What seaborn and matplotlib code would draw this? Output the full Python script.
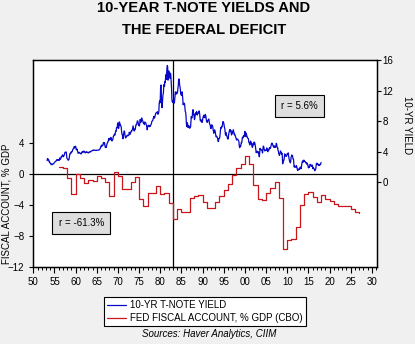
import numpy as np
import pandas as pd
import matplotlib
matplotlib.use("Agg")
import matplotlib.pyplot as plt
from matplotlib.ticker import MultipleLocator, FuncFormatter
from matplotlib.lines import Line2D
import seaborn as sns

# ---------------- data ----------------
# Federal fiscal account, % of GDP (CBO), annual 1956-2027
fiscal_years = list(range(1956, 2028))
fiscal_values = [
    0.9, 0.8, -0.6, -2.6, 0.0, -0.6, -1.2, -0.8, -0.9, -0.3,      # 1956-65
    -0.5, -1.1, -2.8, 0.2, -0.3, -2.0, -1.9, -1.1, -0.4, -3.2,    # 1966-75
    -4.1, -2.5, -2.5, -1.6, -2.6, -2.5, -3.8, -5.8, -4.6, -4.9,   # 1976-85
    -4.9, -3.1, -2.9, -2.7, -3.7, -4.4, -4.4, -3.7, -2.8, -2.1,   # 1986-95
    -1.3, -0.2, 0.8, 1.3, 2.3, 1.3, -1.4, -3.2, -3.4, -2.5,       # 1996-2005
    -1.8, -1.0, -3.1, -9.7, -8.6, -8.4, -6.8, -4.0, -2.6, -2.3,   # 2006-15
    -3.0, -3.6, -2.7, -3.2, -3.5, -3.9, -4.2, -4.2, -4.2, -4.6,   # 2016-25
    -4.9, -5.1,                                                   # 2026-27
]

# 10-year T-note yield, monthly, starting April 1953
yield_1950s = [
    2.83, 3.05, 3.11, 2.93, 2.95, 2.87, 2.66, 2.68, 2.59,
    2.48, 2.47, 2.37, 2.29, 2.37, 2.38, 2.30, 2.36, 2.38, 2.43, 2.48, 2.51,
    2.61, 2.65, 2.68, 2.75, 2.76, 2.78, 2.90, 2.97, 2.97, 2.88, 2.89, 2.96,
    2.90, 2.84, 2.96, 3.18, 3.07, 3.00, 3.11, 3.33, 3.38, 3.34, 3.49, 3.59,
    3.46, 3.34, 3.41, 3.48, 3.60, 3.80, 3.93, 3.93, 3.92, 3.97, 3.72, 3.21,
    3.09, 3.05, 2.98, 2.88, 2.92, 2.97, 3.20, 3.54, 3.76, 3.80, 3.74, 3.86,
    4.02, 3.96, 3.99, 4.12, 4.31, 4.34, 4.40, 4.43, 4.68, 4.53, 4.53, 4.69,
]
yield_1960s = [
    4.72, 4.49, 4.25, 4.28, 4.35, 4.15, 3.90, 3.80, 3.80, 3.89, 3.93, 3.84,
    3.84, 3.78, 3.74, 3.78, 3.71, 3.88, 3.92, 4.04, 3.98, 3.92, 3.94, 4.06,
    4.08, 4.04, 3.93, 3.84, 3.87, 3.91, 4.01, 3.98, 3.98, 3.93, 3.92, 3.86,
    3.83, 3.92, 3.93, 3.97, 3.93, 3.99, 4.02, 4.00, 4.08, 4.11, 4.12, 4.13,
    4.17, 4.15, 4.22, 4.23, 4.20, 4.17, 4.19, 4.19, 4.20, 4.19, 4.15, 4.18,
    4.19, 4.21, 4.21, 4.20, 4.21, 4.21, 4.20, 4.25, 4.29, 4.35, 4.45, 4.62,
    4.61, 4.83, 4.87, 4.75, 4.78, 4.81, 5.02, 5.22, 5.18, 5.01, 5.16, 4.84,
    4.58, 4.63, 4.54, 4.59, 4.85, 5.02, 5.16, 5.28, 5.30, 5.48, 5.75, 5.70,
    5.53, 5.56, 5.74, 5.64, 5.87, 5.72, 5.50, 5.42, 5.46, 5.58, 5.70, 6.03,
    6.04, 6.19, 6.30, 6.17, 6.32, 6.57, 6.72, 6.69, 7.16, 7.10, 7.14, 7.65,
]
yield_1970s = [
    7.79, 7.24, 7.07, 7.39, 7.91, 7.84, 7.46, 7.53, 7.39, 7.33, 6.84, 6.39,
    6.24, 6.11, 5.70, 5.83, 6.39, 6.52, 6.73, 6.58, 6.14, 5.93, 5.81, 5.93,
    5.95, 6.08, 6.07, 6.19, 6.13, 6.11, 6.11, 6.21, 6.55, 6.48, 6.28, 6.36,
    6.46, 6.64, 6.71, 6.67, 6.85, 6.90, 7.13, 7.40, 7.09, 6.79, 6.73, 6.74,
    6.99, 6.96, 7.21, 7.51, 7.58, 7.54, 7.81, 8.04, 8.04, 7.90, 7.68, 7.43,
    7.50, 7.39, 7.73, 8.23, 8.06, 7.86, 8.06, 8.40, 8.43, 8.14, 8.05, 8.00,
    7.74, 7.79, 7.73, 7.56, 7.90, 7.86, 7.83, 7.77, 7.59, 7.41, 7.29, 6.87,
    7.21, 7.39, 7.46, 7.37, 7.46, 7.28, 7.33, 7.40, 7.34, 7.52, 7.58, 7.69,
    7.96, 8.03, 8.04, 8.15, 8.35, 8.46, 8.64, 8.41, 8.42, 8.64, 8.81, 9.01,
    9.10, 9.10, 9.12, 9.18, 9.25, 8.91, 8.95, 9.03, 9.33, 10.30, 10.65, 10.39,
]
yield_1980s = [
    10.80, 12.41, 12.75, 11.47, 10.18, 9.78, 10.25, 11.10, 11.51, 11.75, 12.68, 12.84,
    12.57, 13.19, 13.12, 13.68, 14.10, 13.47, 14.28, 14.94, 15.32, 15.15, 13.39, 13.72,
    14.59, 14.43, 13.86, 13.87, 13.62, 14.30, 13.95, 13.06, 12.34, 10.91, 10.55, 10.54,
    10.46, 10.72, 10.51, 10.40, 10.38, 10.85, 11.38, 11.85, 11.65, 11.54, 11.69, 11.83,
    11.67, 11.84, 12.32, 12.63, 13.41, 13.56, 13.36, 12.72, 12.52, 12.16, 11.57, 11.50,
    11.38, 11.51, 11.86, 11.43, 10.85, 10.16, 10.31, 10.33, 10.37, 10.24, 9.78, 9.26,
    9.19, 8.70, 7.78, 7.30, 7.71, 7.80, 7.30, 7.17, 7.45, 7.43, 7.25, 7.11,
    7.08, 7.25, 7.25, 8.02, 8.61, 8.40, 8.45, 8.76, 9.42, 9.52, 8.86, 8.99,
    8.67, 8.21, 8.37, 8.72, 9.09, 8.92, 9.06, 9.26, 8.98, 8.80, 8.96, 9.11,
    9.09, 9.17, 9.36, 9.18, 8.86, 8.28, 8.02, 8.11, 8.19, 8.01, 7.87, 7.84,
]
yield_1990s = [
    8.21, 8.47, 8.59, 8.79, 8.76, 8.48, 8.47, 8.75, 8.89, 8.72, 8.39, 8.08,
    8.09, 7.85, 8.11, 8.04, 8.07, 8.28, 8.27, 7.90, 7.65, 7.53, 7.42, 7.09,
    7.03, 7.34, 7.54, 7.48, 7.39, 7.26, 6.84, 6.59, 6.42, 6.59, 6.87, 6.77,
    6.60, 6.26, 5.98, 5.97, 6.04, 5.96, 5.81, 5.68, 5.36, 5.33, 5.72, 5.77,
    5.75, 5.97, 6.48, 6.97, 7.18, 7.10, 7.30, 7.24, 7.46, 7.74, 7.96, 7.81,
    7.78, 7.47, 7.20, 7.06, 6.63, 6.17, 6.28, 6.49, 6.20, 6.04, 5.93, 5.71,
    5.65, 5.81, 6.27, 6.51, 6.74, 6.91, 6.87, 6.64, 6.83, 6.53, 6.20, 6.30,
    6.58, 6.42, 6.69, 6.89, 6.71, 6.49, 6.22, 6.30, 6.21, 6.03, 5.88, 5.81,
    5.54, 5.57, 5.65, 5.64, 5.65, 5.50, 5.46, 5.34, 4.81, 4.53, 4.83, 4.65,
    4.72, 5.00, 5.23, 5.18, 5.54, 5.90, 5.79, 5.94, 5.92, 6.11, 6.03, 6.28,
]
yield_2000s = [
    6.66, 6.52, 6.26, 5.99, 6.44, 6.10, 6.05, 5.83, 5.80, 5.74, 5.72, 5.24,
    5.16, 5.10, 4.89, 5.14, 5.39, 5.28, 5.24, 4.97, 4.73, 4.57, 4.65, 5.09,
    5.04, 4.91, 5.28, 5.21, 5.16, 4.93, 4.65, 4.26, 3.87, 3.94, 4.05, 4.03,
    4.05, 3.90, 3.81, 3.96, 3.57, 3.33, 3.98, 4.45, 4.27, 4.29, 4.30, 4.27,
    4.15, 4.08, 3.83, 4.35, 4.72, 4.73, 4.50, 4.28, 4.13, 4.10, 4.19, 4.23,
    4.22, 4.17, 4.50, 4.34, 4.14, 4.00, 4.18, 4.26, 4.20, 4.46, 4.54, 4.47,
    4.42, 4.57, 4.72, 4.99, 5.11, 5.11, 5.09, 4.88, 4.72, 4.73, 4.60, 4.56,
    4.76, 4.72, 4.56, 4.69, 4.75, 5.10, 5.00, 4.67, 4.52, 4.53, 4.15, 4.10,
    3.74, 3.74, 3.51, 3.68, 3.88, 4.10, 4.01, 3.89, 3.69, 3.81, 3.53, 2.42,
    2.52, 2.87, 2.82, 2.93, 3.29, 3.72, 3.56, 3.59, 3.40, 3.39, 3.40, 3.59,
]
yield_2010s = [
    3.73, 3.69, 3.73, 3.85, 3.42, 3.20, 3.01, 2.70, 2.65, 2.54, 2.76, 3.29,
    3.39, 3.58, 3.41, 3.46, 3.17, 3.00, 3.00, 2.30, 1.98, 2.15, 2.01, 1.98,
    1.97, 1.97, 2.17, 2.05, 1.80, 1.62, 1.53, 1.68, 1.72, 1.75, 1.65, 1.72,
    1.91, 1.98, 1.96, 1.76, 1.93, 2.30, 2.58, 2.74, 2.81, 2.62, 2.72, 2.90,
    2.86, 2.71, 2.72, 2.71, 2.56, 2.60, 2.54, 2.42, 2.53, 2.30, 2.33, 2.21,
    1.88, 1.98, 2.04, 1.94, 2.20, 2.36, 2.32, 2.17, 2.17, 2.07, 2.26, 2.24,
    2.09, 1.78, 1.89, 1.81, 1.81, 1.64, 1.50, 1.56, 1.63, 1.76, 2.14, 2.49,
    2.43, 2.42, 2.48, 2.30, 2.30, 2.19, 2.32, 2.21, 2.20, 2.36, 2.35, 2.40,
    2.58,
]
yield_start = "1953-04"

x_tick_years = list(range(1950, 2031, 5))
left_ticks = [-12, -8, -4, 0, 4]
right_ticks = [0, 4, 8, 12, 16]
r_yield_text = "r = 5.6%"
r_fiscal_text = "r = -61.3%"

# ---------------- frames ----------------
yields = yield_1950s + yield_1960s + yield_1970s + yield_1980s + yield_1990s + yield_2000s + yield_2010s
dates = pd.period_range(yield_start, periods=len(yields), freq="M")
yield_df = pd.DataFrame({
    "t": dates.year + (dates.month - 1) / 12.0,
    "yield": yields,
})
fiscal_df = pd.DataFrame({"t": fiscal_years, "fiscal": fiscal_values})

# ---------------- style ----------------
sns.set_style("white")
plt.rcParams["font.family"] = ["Liberation Sans", "DejaVu Sans"]
plt.rcParams["text.color"] = "black"
plt.rcParams["axes.labelcolor"] = "black"
plt.rcParams["xtick.color"] = "black"
plt.rcParams["ytick.color"] = "black"

BLUE = "#0808C8"
RED = "#C8161B"
BG = "#F0F0F0"

W, H = 415, 344
fig = plt.figure(figsize=(W / 100, H / 100), dpi=100, facecolor=BG)

L, R, T, B = 33.3, 376.5, 59.5, 266.8
ax = fig.add_axes([L / W, 1 - B / H, (R - L) / W, (B - T) / H])
ax.set_facecolor("white")
ax2 = ax.twinx()

sns.lineplot(data=fiscal_df, x="t", y="fiscal", ax=ax, color=RED,
             linewidth=0.9, drawstyle="steps-post", legend=False, estimator=None)
sns.lineplot(data=yield_df, x="t", y="yield", ax=ax2, color=BLUE,
             linewidth=0.9, legend=False, estimator=None)

ax.axhline(0, color="black", lw=0.9, zorder=1)
ax.axvline(1983, color="black", lw=0.9, zorder=1)

ax.set_xlim(1950, 2031.1)
ax.set_ylim(-12, 14.75)
ax2.set_ylim(-11.1, 16.1)

ax.set_xticks(x_tick_years)
ax.xaxis.set_minor_locator(MultipleLocator(1))
ax.xaxis.set_major_formatter(FuncFormatter(lambda v, p: f"{int(round(v)) % 100:02d}"))
ax.set_yticks(left_ticks)
ax2.set_yticks(right_ticks)

for a in (ax, ax2):
    for s in a.spines.values():
        s.set_color("black")
        s.set_linewidth(0.9)
    a.set_xlabel("")
    a.set_ylabel("")

ax.tick_params(axis="x", which="major", direction="out", length=4, width=0.8,
               labelsize=7, pad=3, colors="black", bottom=True)
ax.tick_params(axis="x", which="minor", direction="out", length=2.5, width=0.7, bottom=True)
ax.tick_params(axis="y", which="major", direction="out", length=3, width=0.8,
               labelsize=7, pad=3.5, colors="black", left=True)
ax2.tick_params(axis="y", which="major", direction="out", length=3, width=0.8,
                labelsize=7, pad=1.5, colors="black", right=True)

# axis titles
fig.text(6.7 / W, 1 - 203.5 / H, "FISCAL ACCOUNT, % GDP", rotation=90,
         ha="center", va="center", fontsize=7, color="black")
fig.text(406.5 / W, 1 - 125 / H, "10-YR YIELD", rotation=-90,
         ha="center", va="center", fontsize=7, color="black")

# title
fig.text(204 / W, 1 - 8.2 / H, "10-YEAR T-NOTE YIELDS AND", ha="center", va="center",
         fontsize=10.6, fontweight="bold", color="black")
fig.text(204 / W, 1 - 29.7 / H, "THE FEDERAL DEFICIT", ha="center", va="center",
         fontsize=10.6, fontweight="bold", color="black")

# correlation boxes
box = dict(boxstyle="square,pad=0.65", facecolor="#DEDEDE", edgecolor="black", linewidth=0.8)
fig.text(299.7 / W, 1 - 106 / H, r_yield_text, ha="center", va="center", fontsize=7,
         bbox=box, color="black")
fig.text(81.3 / W, 1 - 223 / H, r_fiscal_text, ha="center", va="center", fontsize=7,
         bbox=box, color="black")

# legend
handles = [Line2D([], [], color=BLUE, lw=0.9), Line2D([], [], color=RED, lw=0.9)]
labels = ["10-YR T-NOTE YIELD", "FED FISCAL ACCOUNT, % GDP (CBO)"]
leg = fig.legend(handles, labels, loc="center", bbox_to_anchor=(205 / W, 1 - 311.5 / H),
                 fontsize=7, frameon=True, fancybox=False, framealpha=1,
                 edgecolor="black", facecolor="white", handlelength=2.0,
                 handletextpad=0.4, labelspacing=0.3, borderpad=0.35, borderaxespad=0)
leg.get_frame().set_linewidth(0.8)
for txt in leg.get_texts():
    txt.set_color("black")

fig.text(209 / W, 1 - 334.3 / H, "Sources: Haver Analytics, CIIM", ha="center", va="center",
         fontsize=7, style="italic", color="black")

fig.savefig("out.png", dpi=100, facecolor=BG)
